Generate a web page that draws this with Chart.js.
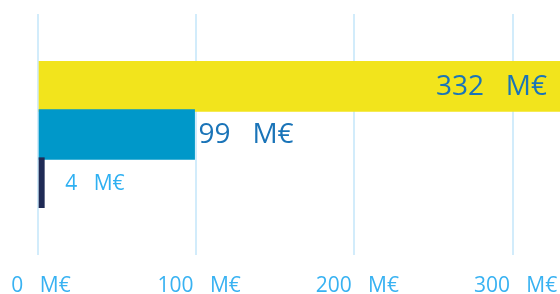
<!DOCTYPE html>
<html>
<head>
<meta charset="utf-8">
<script src="https://cdn.jsdelivr.net/npm/chart.js@4"></script>
<style>
  html, body { margin: 0; padding: 0; background: #fff; }
  #wrap { width: 560px; height: 294px; }
</style>
</head>
<body>
<div id="wrap"><canvas id="chart"></canvas></div>
<script>
// empty slots at both ends keep the three bars in the middle
const categories = ['', 'Total', 'Part', 'Autre', ''];
const values = [null, 332, 99, 4, null];
const barColors = ['#f2e41c', '#f2e41c', '#0098c9', '#1f2a55', '#1f2a55'];
const xTicks = [0, 100, 200, 300];
const unit = 'M€';
const gap = '   ';

// value labels: inside the long bar, outside the others
const valueLabels = {
    id: 'valueLabels',
    afterDatasetsDraw(chart) {
        const { ctx, chartArea } = chart;
        const meta = chart.getDatasetMeta(0);
        ctx.save();
        ctx.textBaseline = 'middle';
        meta.data.forEach((bar, i) => {
            const v = values[i];
            if (v == null) return;
            const text = `${v}${gap}${unit}`;
            const end = Math.min(bar.x, chartArea.right);
            const len = end - chartArea.left;
            if (len > 300) {
                ctx.font = '28px "Open Sans"';
                ctx.fillStyle = '#1a74b8';
                ctx.textAlign = 'right';
                ctx.fillText(text, end - 13, bar.y + 1);
            } else if (len > 50) {
                ctx.font = '28px "Open Sans"';
                ctx.fillStyle = '#1a74b8';
                ctx.textAlign = 'left';
                ctx.fillText(text, end + 4, bar.y + 1);
            } else {
                ctx.font = '21px "Open Sans"';
                ctx.fillStyle = '#2eb0f2';
                ctx.textAlign = 'left';
                ctx.fillText(text, end + 21, bar.y + 1);
            }
        });
        ctx.restore();
    }
};

new Chart(document.getElementById('chart'), {
    type: 'bar',
    data: {
        labels: categories,
        datasets: [{
            data: values,
            backgroundColor: barColors,
            barThickness: 50,
            borderWidth: 0
        }]
    },
    options: {
        indexAxis: 'y',
        responsive: true,
        maintainAspectRatio: false,
        animation: false,
        layout: { padding: { left: 0, top: 14, right: 0, bottom: 0 } },
        plugins: {
            legend: { display: false },
            tooltip: { enabled: false }
        },
        scales: {
            y: { display: false },
            x: {
                min: 0,
                max: 330,
                afterBuildTicks: scale => {
                    scale.ticks = xTicks.map(v => ({ value: v }));
                },
                afterFit: scale => {
                    scale.paddingLeft = 38;
                    scale.paddingRight = 0;
                    scale.height = 39;
                },
                border: { display: false },
                grid: { color: '#d2ecfb', lineWidth: 2, drawTicks: false },
                ticks: {
                    padding: 21,
                    labelOffset: 3,
                    color: '#38b2f2',
                    font: { family: 'Open Sans', size: 21, lineHeight: 1 },
                    maxRotation: 0,
                    callback: v => `${v}${gap}${unit}`
                }
            }
        }
    },
    plugins: [valueLabels]
});
</script>
</body>
</html>
